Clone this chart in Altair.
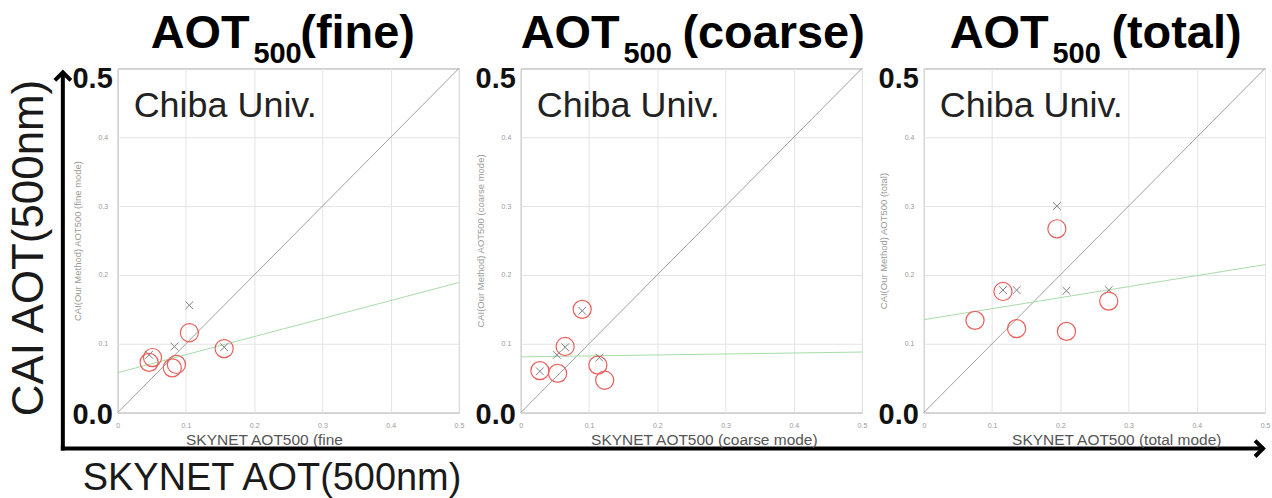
import altair as alt
import pandas as pd

# ---------------- data ----------------
panel_keys = ["fine", "coarse", "total"]
title_modes = ["(fine)", "(coarse)", "(total)"]
x_titles = ["SKYNET AOT500 (fine", "SKYNET AOT500 (coarse mode)", "SKYNET AOT500 (total mode)"]
y_titles = ["CAI(Our Method) AOT500 (fine mode)",
            "CAI(Our Method) AOT500 (coarse mode)",
            "CAI(Our Method) AOT500 (total)"]
site_label = "Chiba Univ."
tick_values = [0, 0.1, 0.2, 0.3, 0.4, 0.5]
axis_range = [0, 0.5]
identity_x = [0, 0.5]
identity_y = [0, 0.5]

# CAI (red circles)
fine_circle_x = [0.046, 0.051, 0.080, 0.086, 0.105, 0.156]
fine_circle_y = [0.073, 0.080, 0.065, 0.070, 0.116, 0.093]
coarse_circle_x = [0.028, 0.054, 0.065, 0.090, 0.113, 0.123]
coarse_circle_y = [0.061, 0.057, 0.096, 0.150, 0.069, 0.047]
total_circle_x = [0.075, 0.116, 0.136, 0.195, 0.209, 0.271]
total_circle_y = [0.134, 0.176, 0.122, 0.267, 0.118, 0.162]

# other retrieval (grey crosses)
fine_cross_x = [0.105, 0.083, 0.156, 0.046]
fine_cross_y = [0.156, 0.096, 0.095, 0.084]
coarse_cross_x = [0.028, 0.065, 0.090, 0.115, 0.053]
coarse_cross_y = [0.060, 0.095, 0.148, 0.080, 0.084]
total_cross_x = [0.195, 0.136, 0.209, 0.271, 0.116]
total_cross_y = [0.300, 0.178, 0.177, 0.178, 0.178]

# regression lines (green)
fine_fit_x = [0.0, 0.5]
fine_fit_y = [0.058, 0.189]
coarse_fit_x = [0.0, 0.5]
coarse_fit_y = [0.081, 0.088]
total_fit_x = [0.0, 0.5]
total_fit_y = [0.135, 0.215]

big_y_label = "CAI AOT(500nm)"
big_x_label = "SKYNET AOT(500nm)"

circles = {"fine": (fine_circle_x, fine_circle_y),
           "coarse": (coarse_circle_x, coarse_circle_y),
           "total": (total_circle_x, total_circle_y)}
crosses = {"fine": (fine_cross_x, fine_cross_y),
           "coarse": (coarse_cross_x, coarse_cross_y),
           "total": (total_cross_x, total_cross_y)}
fits = {"fine": (fine_fit_x, fine_fit_y),
        "coarse": (coarse_fit_x, coarse_fit_y),
        "total": (total_fit_x, total_fit_y)}

# ---------------- style / layout ----------------
W, H = 342, 345
FONT = "Liberation Sans"
RED = "#e8605a"
GREY_X = "#808080"
GREEN = "#a8dca8"
DIAG = "#a0a0a0"
GRID = "#e4e4e4"
title_start = [33, 0, 26]
xtitle_start = [68, 70, 88]
CROSS = "M-1,-1L1,1M-1,1L1,-1"


def one_row(**kw):
    return pd.DataFrame({k: [v] for k, v in kw.items()})


def make_panel(i):
    key = panel_keys[i]
    xs = alt.Scale(domain=axis_range, nice=False, zero=False)
    ys = alt.Scale(domain=axis_range, nice=False, zero=False)
    xaxis = alt.Axis(values=tick_values, grid=True, gridColor=GRID, ticks=False, tickSize=0,
                     domain=False, labelFontSize=7, labelColor="#999", labelPadding=9,
                     labelFlush=False, labelOverlap=False, labelFont=FONT,
                     labelExpr="datum.value == 0 ? '0' : format(datum.value, '.1f')",
                     title=x_titles[i], titleFont=FONT, titleFontSize=15.5, titleColor="#555",
                     titleFontWeight="normal", titleX=xtitle_start[i], titleY=27,
                     titleAlign="left", titleBaseline="middle")
    yaxis = alt.Axis(values=tick_values, grid=True, gridColor=GRID, ticks=False, tickSize=0,
                     domain=False, labelFontSize=7, labelColor="#999", labelPadding=10,
                     labelFlush=False, labelOverlap=False, labelFont=FONT,
                     labelExpr="datum.value > 0 && datum.value < 0.5 ? format(datum.value, '.1f') : ''",
                     title=y_titles[i], titleFont=FONT, titleFontSize=9.5, titleColor="#999",
                     titleFontWeight="normal", titleX=-40, titleY=H / 2, titleAngle=270,
                     titleAlign="center", titleBaseline="middle")

    def X(f):
        return alt.X(f, type="quantitative", scale=xs, axis=xaxis)

    def Y(f):
        return alt.Y(f, type="quantitative", scale=ys, axis=yaxis)

    diag = alt.Chart(pd.DataFrame({"x": [identity_x[0]], "y": [identity_y[0]],
                                   "x2": [identity_x[1]], "y2": [identity_y[1]]})
                     ).mark_rule(color=DIAG, strokeWidth=1).encode(
        x=X("x"), y=Y("y"), x2="x2:Q", y2="y2:Q")

    fx, fy = fits[key]
    fit = alt.Chart(pd.DataFrame({"x": fx, "y": fy})).mark_line(
        color=GREEN, strokeWidth=1).encode(x=X("x"), y=Y("y"))

    cx, cy = crosses[key]
    cross = alt.Chart(pd.DataFrame({"x": cx, "y": cy})).mark_point(
        shape=CROSS, size=60, filled=False, stroke=GREY_X, strokeWidth=1, opacity=1
    ).encode(x=X("x"), y=Y("y"))

    ox, oy = circles[key]
    circ = alt.Chart(pd.DataFrame({"x": ox, "y": oy})).mark_point(
        shape="circle", size=330, filled=False, stroke=RED, strokeWidth=1.2, opacity=1
    ).encode(x=X("x"), y=Y("y"))

    site = alt.Chart(one_row(t=site_label)).mark_text(
        align="left", baseline="alphabetic", fontSize=36, font=FONT, color="#222"
    ).encode(x=alt.value(16), y=alt.value(49), text="t:N")

    big0 = alt.Chart(one_row(v=axis_range[0], t="0.0")).mark_text(
        align="right", baseline="alphabetic", dy=11, fontSize=29, fontWeight="bold",
        font=FONT, color="#111").encode(x=alt.value(-5), y=Y("v"), text="t:N")
    big5 = alt.Chart(one_row(v=axis_range[1], t="0.5")).mark_text(
        align="right", baseline="alphabetic", dy=20, fontSize=29, fontWeight="bold",
        font=FONT, color="#111").encode(x=alt.value(-5), y=Y("v"), text="t:N")

    t0 = title_start[i]
    mode_off = 150 if i == 0 else 162
    tA = alt.Chart(one_row(t="AOT")).mark_text(
        align="left", baseline="alphabetic", fontSize=47, fontWeight="bold", font=FONT,
        color="#000").encode(x=alt.value(t0), y=alt.value(-20), text="t:N")
    tS = alt.Chart(one_row(t="500")).mark_text(
        align="left", baseline="alphabetic", fontSize=29, fontWeight="bold", font=FONT,
        color="#000").encode(x=alt.value(t0 + 103), y=alt.value(-5), text="t:N")
    tM = alt.Chart(one_row(t=title_modes[i])).mark_text(
        align="left", baseline="alphabetic", fontSize=47, fontWeight="bold", font=FONT,
        color="#000").encode(x=alt.value(t0 + mode_off), y=alt.value(-20), text="t:N")

    layers = [diag, fit, cross, circ, site, big0, big5, tA, tS, tM]

    if i == 0:
        bound = alt.Chart(one_row(a=0)).mark_rect(fill="white", opacity=0).encode(
            x=alt.value(-117), x2=alt.value(1155), y=alt.value(-67), y2=alt.value(431))
        vline = alt.Chart(one_row(a=0)).mark_rule(color="black", strokeWidth=4).encode(
            x=alt.value(-55), y=alt.value(5), y2=alt.value(383))
        hline = alt.Chart(one_row(a=0)).mark_rule(color="black", strokeWidth=4).encode(
            x=alt.value(-57), x2=alt.value(1149), y=alt.value(381))
        up = alt.Chart(one_row(a=0)).mark_point(
            shape="M-1,1L0,0L1,1", size=256, filled=False, stroke="black",
            strokeWidth=4, opacity=1).encode(x=alt.value(-55), y=alt.value(4))
        right = alt.Chart(one_row(a=0)).mark_point(
            shape="M-1,-1L0,0L-1,1", size=256, filled=False, stroke="black",
            strokeWidth=4, opacity=1).encode(x=alt.value(1148), y=alt.value(381))
        ylab = alt.Chart(one_row(t=big_y_label)).mark_text(
            align="center", baseline="middle", angle=270, fontSize=44, font=FONT,
            color="#1a1a1a").encode(x=alt.value(-88), y=alt.value(180), text="t:N")
        xlab = alt.Chart(one_row(t=big_x_label)).mark_text(
            align="left", baseline="alphabetic", fontSize=38, font=FONT,
            color="#1a1a1a").encode(x=alt.value(-35), y=alt.value(423), text="t:N")
        layers = [bound] + layers + [vline, hline, up, right, ylab, xlab]

    return alt.layer(*layers).properties(width=W, height=H)


chart = alt.hconcat(make_panel(0), make_panel(1), make_panel(2),
                    spacing=62, bounds="flush").properties(
    padding=0, background="white"
).configure_view(stroke="#888", strokeWidth=1)

chart.save("out.html", embed_options={"renderer": "svg", "actions": False})
